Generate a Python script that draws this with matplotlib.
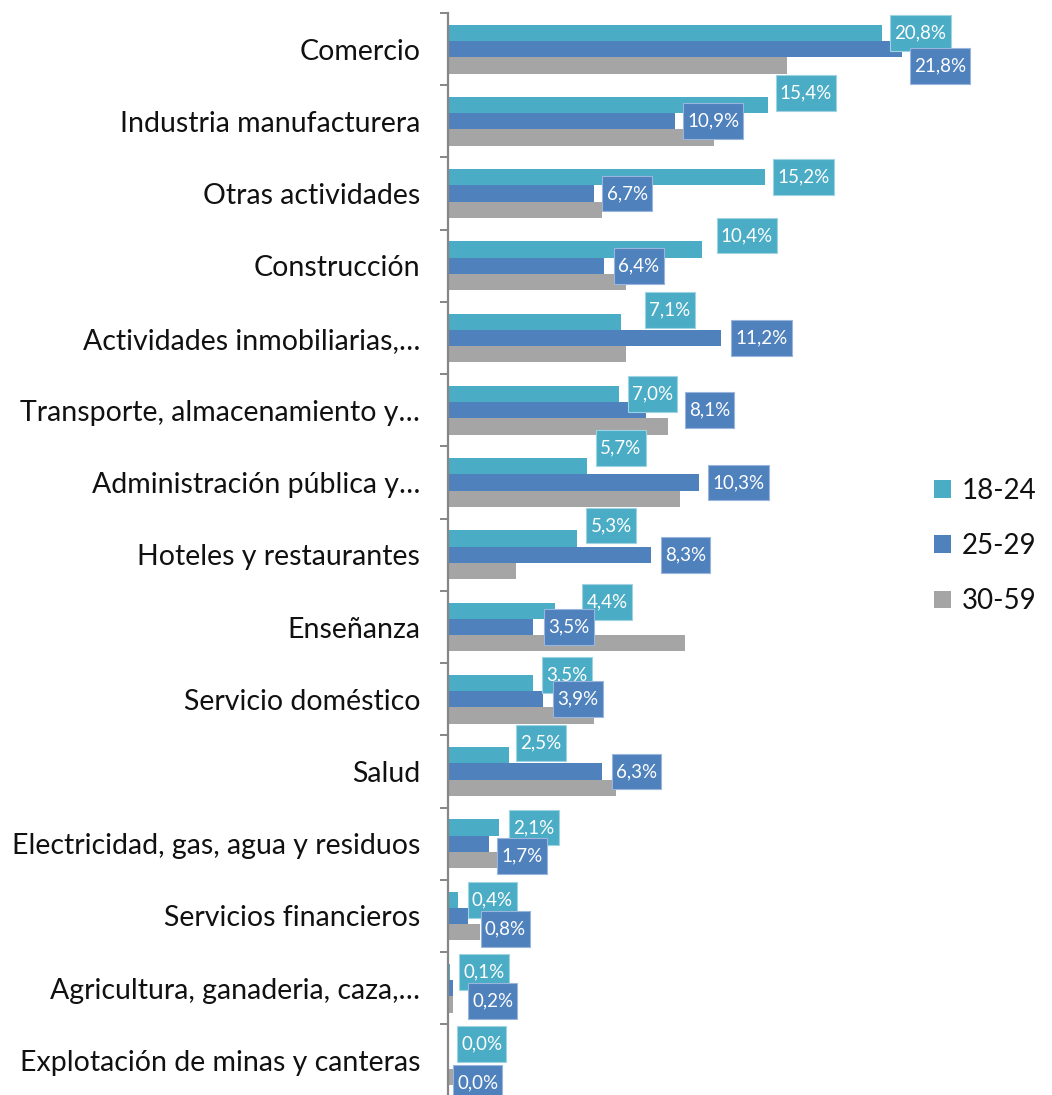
import matplotlib
matplotlib.use("Agg")
import matplotlib.pyplot as plt
from matplotlib.patches import Patch
from matplotlib.path import Path

plt.rcParams['font.family'] = ['Lato', 'DejaVu Sans']

categories = ["Comercio", "Industria manufacturera", "Otras actividades",
              "Construcción", "Actividades inmobiliarias,…",
              "Transporte, almacenamiento y…", "Administración pública y…",
              "Hoteles y restaurantes", "Enseñanza", "Servicio doméstico",
              "Salud", "Electricidad, gas, agua y residuos",
              "Servicios financieros", "Agricultura, ganaderia, caza,…",
              "Explotación de minas y canteras"]
series = ["18-24", "25-29", "30-59"]

# bar lengths as drawn in the picture (%)
v_18_24 = [17.8, 13.1, 13.0, 10.4, 7.1, 7.0, 5.7, 5.3, 4.4, 3.5, 2.5, 2.1, 0.4, 0.1, 0.0]
v_25_29 = [18.6, 9.3, 6.0, 6.4, 11.2, 8.1, 10.3, 8.3, 3.5, 3.9, 6.3, 1.7, 0.8, 0.2, 0.0]
v_30_59 = [13.9, 10.9, 6.3, 7.3, 7.3, 9.0, 9.5, 2.8, 9.7, 6.0, 6.9, 2.0, 1.3, 0.2, 0.2]

# data label texts as printed
lab_18_24 = ["20,8%", "15,4%", "15,2%", "10,4%", "7,1%", "7,0%", "5,7%", "5,3%",
             "4,4%", "3,5%", "2,5%", "2,1%", "0,4%", "0,1%", "0,0%"]
lab_25_29 = ["21,8%", "10,9%", "6,7%", "6,4%", "11,2%", "8,1%", "10,3%", "8,3%",
             "3,5%", "3,9%", "6,3%", "1,7%", "0,8%", "0,2%", "0,0%"]

colors = ["#4BACC6", "#4F81BD", "#A5A5A5"]
edge_lab = ["#9FD3E2", "#9AB6DC"]

# label nudges (pixels): gap from bar end, vertical shift (down positive)
gap_a = [8, 8, 8, 15, 24, 9, 9, 9, 27, 9, 7, 10, 10, 9, 9]
dy_a = [0, -12, 0, -14, -12, 0, -18, -13, -9, -8, -12, 0, 0, 0, 0]
gap_b = [8, 8, 8, 10, 10, 39, 9, 10, 11, 10, 10, 8, 13, 15, 5]
dy_b = [17, 0, 0, 0, 0, 0, 0, 0, 0, 0, 0, 12, 13, 13, 22]

HP, VP = 0.22, 0.5


def label_box(x0, y0, width, height, mutation_size):
    hp = HP * mutation_size
    vp = VP * mutation_size
    x0, y0 = x0 - hp, y0 - vp
    x1, y1 = x0 + width + 2 * hp, y0 + height + 2 * vp
    return Path([(x0, y0), (x1, y0), (x1, y1), (x0, y1), (x0, y0)], closed=True)


W, H = 1052, 1095
fig = plt.figure(figsize=(W / 100, H / 100), dpi=100)
ax = fig.add_axes([448 / W, -1.6 / H, 24 * 24.4 / W, (1095 - 13 + 1.6) / H])

bh = 0.225
y = list(range(len(categories)))
for k, vals in enumerate([v_18_24, v_25_29, v_30_59]):
    ax.barh([i + (k - 1) * bh for i in y], vals, height=bh, color=colors[k],
            label=series[k], zorder=2)

px = 0.72  # points per pixel at 100 dpi
fs = 13.5
for k, (vals, labs, gaps, dys) in enumerate([(v_18_24, lab_18_24, gap_a, dy_a),
                                             (v_25_29, lab_25_29, gap_b, dy_b)]):
    for i in y:
        ax.annotate(labs[i], xy=(vals[i], i + (k - 1) * bh),
                    xytext=(gaps[i] * px + HP * fs, -dys[i] * px),
                    textcoords="offset points", ha="left", va="center",
                    fontsize=fs, color="white", zorder=5 + k,
                    bbox=dict(boxstyle=label_box, fc=colors[k],
                              ec=edge_lab[k], lw=0.8))

ax.set_xlim(0, 24)
ax.set_ylim(len(categories) - 0.5, -0.5)
ax.set_yticks(y)
ax.set_yticklabels(categories, fontsize=20.5, color="#111111")
ax.set_yticks([i - 0.5 for i in range(len(categories) + 1)], minor=True)
ax.tick_params(axis="y", which="major", length=0, pad=20)
ax.tick_params(axis="y", which="minor", length=6, width=1.4, color="#868686",
               direction="out")
ax.set_xticks([])
for s in ["top", "right", "bottom"]:
    ax.spines[s].set_visible(False)
ax.spines["left"].set_color("#868686")
ax.spines["left"].set_linewidth(1.6)

handles = [Patch(facecolor=c) for c in colors]
fig.legend(handles, series, loc="center left",
           bbox_to_anchor=(934 / W, 1 - 546 / H), frameon=False,
           fontsize=20, handlelength=0.6, handleheight=0.6,
           handletextpad=0.4, labelspacing=1.05, borderpad=0,
           borderaxespad=0, labelcolor="#111111")

plt.savefig("out.png", dpi=100)
